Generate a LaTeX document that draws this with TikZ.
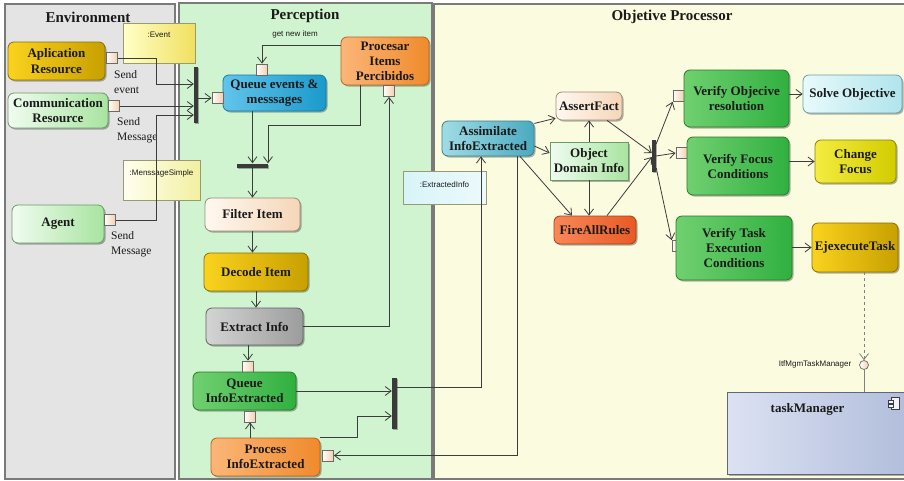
\documentclass[tikz,border=0pt]{standalone}
\usepackage{fontspec}
\setmainfont{Liberation Serif}
\setsansfont{Liberation Sans}
\usetikzlibrary{arrows.meta,shadows,calc}
\definecolor{linec}{HTML}{3C3C3C}
\definecolor{txt}{HTML}{1A1A1A}
\definecolor{envc}{HTML}{E4E4E4}
\definecolor{percc}{HTML}{D0F4D0}
\definecolor{objc}{HTML}{FBFBE0}
\definecolor{panelb}{HTML}{7A7A7A}
\definecolor{barc}{HTML}{3A3A3A}
\definecolor{pinL}{HTML}{FFFCF8}
\definecolor{pinR}{HTML}{F2D0B0}
\definecolor{pinB}{HTML}{6A6A6A}
\definecolor{goldL}{HTML}{FAD21E}
\definecolor{goldR}{HTML}{C8A000}
\definecolor{goldB}{HTML}{8A7000}
\definecolor{lgL}{HTML}{F0FCF0}
\definecolor{lgR}{HTML}{A8E4A0}
\definecolor{lgB}{HTML}{6A9A6A}
\definecolor{blueL}{HTML}{62C4EA}
\definecolor{blueR}{HTML}{1A9ACB}
\definecolor{blueB}{HTML}{1878A8}
\definecolor{orL}{HTML}{FBB678}
\definecolor{orR}{HTML}{F08A2C}
\definecolor{orB}{HTML}{B8651E}
\definecolor{peL}{HTML}{FFF8F0}
\definecolor{peR}{HTML}{F5D6B8}
\definecolor{peB}{HTML}{9A8A78}
\definecolor{grL}{HTML}{D4D4D4}
\definecolor{grR}{HTML}{9C9C9C}
\definecolor{grB}{HTML}{606060}
\definecolor{gnL}{HTML}{70D070}
\definecolor{gnR}{HTML}{30B040}
\definecolor{gnB}{HTML}{2A7A2A}
\definecolor{tlL}{HTML}{A0DCE6}
\definecolor{tlR}{HTML}{4AAAC0}
\definecolor{tlB}{HTML}{3A7E8C}
\definecolor{fiL}{HTML}{F8875A}
\definecolor{fiR}{HTML}{E85A24}
\definecolor{fiB}{HTML}{A84018}
\definecolor{soL}{HTML}{E8FAFC}
\definecolor{soR}{HTML}{B0E4EC}
\definecolor{soB}{HTML}{6AA0AA}
\definecolor{chL}{HTML}{F4EC40}
\definecolor{chR}{HTML}{D2CC00}
\definecolor{chB}{HTML}{8A8400}
\definecolor{tmL}{HTML}{DCE2F2}
\definecolor{tmR}{HTML}{B2BEDC}
\definecolor{tmB}{HTML}{606878}
\definecolor{evL}{HTML}{FFFFC8}
\definecolor{evR}{HTML}{F0E060}
\definecolor{msL}{HTML}{FFFFF0}
\definecolor{msR}{HTML}{F2F0A0}
\definecolor{exL}{HTML}{D8F4F8}
\definecolor{exR}{HTML}{ECFAFC}
\definecolor{noteB}{HTML}{9A9A70}
\begin{document}
\begin{tikzpicture}[x=1pt,y=-1pt,
  flow/.style={draw=linec, line width=0.8pt, -{Straight Barb[length=6pt,width=9pt]}},
  plainline/.style={draw=linec, line width=0.8pt},
  panel/.style={rectangle, draw=panelb, line width=1.2pt, inner sep=0pt},
  ptitle/.style={font=\fontsize{15}{18}\selectfont\bfseries, text=txt, inner sep=0pt},
  act/.style={rectangle, rounded corners=6pt, line width=0.8pt, inner sep=2pt, align=center,
    font=\fontsize{13}{15}\selectfont\bfseries, text=txt,
    drop shadow={shadow xshift=1.5pt, shadow yshift=-1.5pt, opacity=0.3, fill=black}},
  pinbox/.style={rectangle, draw=pinB, line width=0.7pt, left color=pinL, right color=pinR, minimum size=11pt, inner sep=0pt},
  barbox/.style={rectangle, fill=barc, draw=none, inner sep=0pt,
    drop shadow={shadow xshift=1pt, shadow yshift=-1pt, opacity=0.3, fill=black}},
  notebox/.style={rectangle, draw=noteB, line width=0.7pt, inner sep=0pt, font=\fontsize{8}{9}\sffamily, text=txt},
  lbl/.style={font=\fontsize{11.5}{15}\selectfont, align=left, inner sep=0pt, text=txt},
  small/.style={font=\fontsize{8}{9}\sffamily, text=txt, inner sep=0pt}
]
\useasboundingbox[fill=white] (0,0) rectangle (904,480);

% panels
\node[panel, fill=envc, minimum width=170pt, minimum height=475pt] (env) at (90,241.5) {};
\node[panel, fill=percc, minimum width=253pt, minimum height=476pt] (perc) at (305.5,241) {};
\node[panel, fill=objc, minimum width=472pt, minimum height=475pt] (obj) at (670,241.5) {};
\node[ptitle] (envT) at (88,17) {Environment};
\node[ptitle] (percT) at (305,16) {Perception};
\node[ptitle] (objT) at (672,17) {Objetive Processor};

% notes
\node[notebox, left color=evL, right color=evR] (nEvent) at (159,43) {\parbox[c][40pt][t]{72pt}{\centering\rule{0pt}{14pt}:Event}};
\node[notebox, left color=msL, right color=msR] (nMsg) at (161.5,180) {\parbox[c][40pt][t]{77pt}{\centering\rule{0pt}{15pt}:MenssageSimple}};
\node[notebox, left color=exL, right color=exR] (nExt) at (444.5,187.5) {\parbox[c][33pt][t]{83pt}{\centering\rule{0pt}{16pt}:ExtractedInfo}};

% environment nodes
\node[act, minimum width=97pt, minimum height=38pt, left color=goldL, right color=goldR, draw=goldB] (app) at (56.5,61) {Aplication\\[0.5pt]Resource};
\node[act, minimum width=100pt, minimum height=35pt, left color=lgL, right color=lgR, draw=lgB] (comm) at (58,110.5) {Communication\\[0.5pt]Resource};
\node[act, minimum width=92pt, minimum height=38pt, left color=lgL, right color=lgR, draw=lgB] (agent) at (58,224) {Agent};
\node[pinbox] (pApp) at (112,58) {};
\node[pinbox] (pComm) at (114,106) {};
\node[pinbox] (pAgent) at (110,220) {};
\node[lbl, anchor=west] (lApp) at (114,82) {Send\\event};
\node[lbl, anchor=west] (lComm) at (117,130) {Send\\Message};
\node[lbl, anchor=west] (lAgent) at (111,244.5) {Send\\Message};
\node[barbox, minimum width=4pt, minimum height=56pt] (bar1) at (196,95) {};

% perception nodes
\node[act, minimum width=103pt, minimum height=36pt, left color=blueL, right color=blueR, draw=blueB] (qem) at (274.5,93) {Queue events \&\\messsages};
\node[pinbox] (pQ) at (217.5,98) {};
\node[pinbox] (pQt) at (262,69.5) {};
\node[act, minimum width=88pt, minimum height=48pt, left color=orL, right color=orR, draw=orB] (proc) at (385,61) {Procesar\\Items\\Percibidos};
\node[pinbox] (pProc) at (389,91) {};
\node[barbox, minimum width=31pt, minimum height=4pt] (join) at (252.5,165.5) {};
\node[act, minimum width=95pt, minimum height=33pt, left color=peL, right color=peR, draw=peB] (filter) at (252.5,214.5) {Filter Item};
\node[act, minimum width=104pt, minimum height=38pt, left color=goldL, right color=goldR, draw=goldB] (decode) at (256,272) {Decode Item};
\node[act, minimum width=97pt, minimum height=37pt, left color=grL, right color=grR, draw=grB] (extract) at (254.5,326.5) {Extract Info};
\node[pinbox] (pQI) at (248,366.5) {};
\node[act, minimum width=103pt, minimum height=38pt, left color=gnL, right color=gnR, draw=gnB] (qi) at (244.5,391) {Queue\\InfoExtracted};
\node[pinbox] (pQI2) at (250,416.5) {};
\node[act, minimum width=109pt, minimum height=38pt, left color=orL, right color=orR, draw=orB] (pie) at (265.5,457) {Process\\InfoExtracted};
\node[pinbox] (pPIE) at (328,455.5) {};
\node[barbox, minimum width=5pt, minimum height=51pt] (bar2) at (394.5,403.5) {};

% objective nodes
\node[act, minimum width=92pt, minimum height=35pt, left color=tlL, right color=tlR, draw=tlB] (assim) at (488,138.5) {Assimilate\\InfoExtracted};
\node[act, minimum width=66pt, minimum height=28pt, left color=peL, right color=peR, draw=peB] (assert) at (589,106) {AssertFact};
\node[act, rounded corners=0pt, minimum width=78pt, minimum height=38pt, left color=lgL, right color=lgR, draw=lgB] (odi) at (589,161) {Object\\Domain Info};
\node[act, minimum width=82pt, minimum height=28pt, left color=fiL, right color=fiR, draw=fiB] (fire) at (595,230) {FireAllRules};
\node[barbox, minimum width=4pt, minimum height=32pt] (fbar) at (654,156) {};
\node[pinbox] (pVO) at (678.5,96) {};
\node[pinbox] (pVF) at (681.5,153) {};
\node[pinbox] (pVT) at (677.5,246) {};
\node[act, minimum width=105pt, minimum height=57pt, left color=gnL, right color=gnR, draw=gnB] (vo) at (736.5,98.5) {Verify Objecive\\resolution};
\node[act, minimum width=102pt, minimum height=58pt, left color=gnL, right color=gnR, draw=gnB] (vf) at (738,166) {Verify Focus\\Conditions};
\node[act, minimum width=116pt, minimum height=64pt, left color=gnL, right color=gnR, draw=gnB] (vt) at (734,248) {Verify Task\\Execution\\Conditions};
\node[act, minimum width=99pt, minimum height=38pt, left color=soL, right color=soR, draw=soB] (solve) at (852.5,94) {Solve Objective};
\node[act, minimum width=81pt, minimum height=43pt, left color=chL, right color=chR, draw=chB] (change) at (855.5,161.5) {Change\\Focus};
\node[act, minimum width=86pt, minimum height=49pt, inner sep=0pt, left color=goldL, right color=goldR, draw=goldB] (ejec) at (855,247.5) {EjexecuteTask};
\node[circle, draw=pinB, line width=0.7pt, left color=pinL, right color=pinR, minimum size=9pt, inner sep=0pt] (lolli) at (864,365) {};
\node[small] (lolliLbl) at (815,364) {ItfMgmTaskManager};
\node[rectangle, draw=tmB, line width=1pt, inner sep=0pt, left color=tmL, right color=tmR,
  font=\fontsize{13}{15}\selectfont\bfseries, text=txt,
  drop shadow={shadow xshift=1.5pt, shadow yshift=-1.5pt, opacity=0.3, fill=black}]
  (tm) at (815.5,433) {\parbox[c][82pt][t]{177pt}{\centering\rule{0pt}{20pt}taskManager\hspace*{16pt}}};
\draw[draw=linec, line width=0.6pt, fill=white!60!tmL] ([xshift=-13pt,yshift=-6pt]tm.north east) rectangle ([xshift=-5pt,yshift=-18pt]tm.north east);
\draw[draw=linec, line width=0.6pt, fill=white!60!tmL] ([xshift=-16pt,yshift=-9pt]tm.north east) rectangle ([xshift=-11pt,yshift=-11.5pt]tm.north east);
\draw[draw=linec, line width=0.6pt, fill=white!60!tmL] ([xshift=-16pt,yshift=-13pt]tm.north east) rectangle ([xshift=-11pt,yshift=-15.5pt]tm.north east);

% connectors: environment
\draw[flow] (pApp.east) -| (156,84) -- (156,84 -| bar1.west);
\draw[flow] (pComm.east) -- (pComm.east -| bar1.west);
\draw[flow] (pAgent.east) -| (156,115) -- (156,115 -| bar1.west);
\draw[flow] (bar1.east |- pQ.west) -- (pQ.west);

% connectors: perception
\draw[flow] ([yshift=16pt]proc.west) -| node[small, pos=0.29, above=6pt] (gni) {get new item} (pQt.north);
\draw[flow] (qem.south -| join.north) -- (join.north);
\draw[flow] ([xshift=-25pt]proc.south) |- (268,125) -- (268,125 |- join.north);
\draw[flow] (join.south) -- (join.south |- filter.north);
\draw[flow] (filter.south) -- (filter.south |- decode.north);
\draw[flow] (decode.south) -- (decode.south |- extract.north);
\draw[flow] (extract.east) -| (pProc.south);
\draw[flow] (extract.south -| pQI.north) -- (pQI.north);
\draw[flow] (pie.north -| pQI2.south) -- (pQI2.south);
\draw[flow] (qi.east) -- (qi.east -| bar2.west);
\draw[flow] (pie.north east) -| (357,416) -- (357,416 -| bar2.west);
\draw[flow] ([yshift=16.5pt]bar2.east) -| ([xshift=-7pt]assim.south);
\draw[flow] ([xshift=29pt]assim.south) |- (pPIE.east);

% connectors: objective
\draw[flow] (assim.18) -- (assert.200);
\draw[flow] ([yshift=-7.5pt]assim.east) -- ([yshift=8pt]odi.west);
\draw[flow] ([xshift=32pt]assim.south) -- ([xshift=-23pt]fire.north);
\draw[flow] (odi.north) -- (assert.south);
\draw[flow] (odi.south) -- (fire.north -| odi.south);
\draw[flow] ([xshift=18pt]assert.south) -- ([yshift=3pt]fbar.west);
\draw[flow] ([xshift=12pt]fire.north) -- ([yshift=-1pt]fbar.west);
\draw[flow] ([yshift=12pt]fbar.east) -- (pVO.south west);
\draw[flow] (fbar.east) -- (pVF.west);
\draw[flow] ([yshift=-12pt]fbar.east) -- (pVT.north west);
\draw[flow] (vo.east |- solve.west) -- (solve.west);
\draw[flow] (vf.east |- change.west) -- (change.west);
\draw[flow] (vt.east |- ejec.west) -- (ejec.west);
\draw[flow, draw=gray, dashed] (ejec.south -| lolli.north) -- (lolli.north);
\draw[plainline, draw=gray] (lolli.south) -- (lolli.south |- tm.north);
\end{tikzpicture}
\end{document}
